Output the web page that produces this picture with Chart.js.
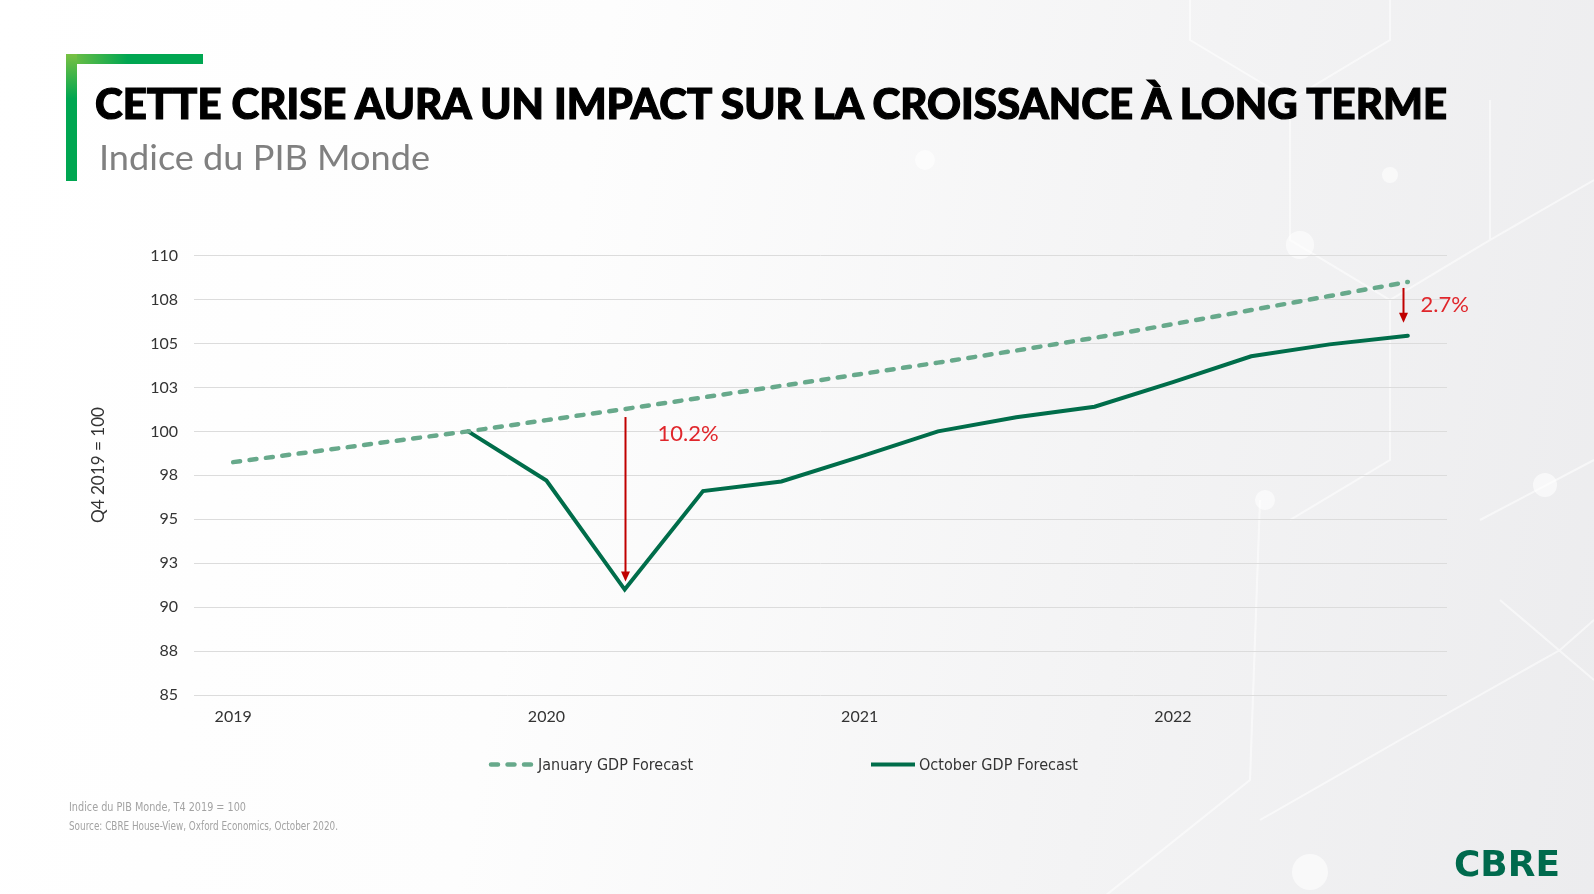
<!DOCTYPE html>
<html><head><meta charset="utf-8">
<script src="https://cdn.jsdelivr.net/npm/chart.js@4.4.1/dist/chart.umd.min.js"></script>
<style>
html,body{margin:0;padding:0;}
body{width:1594px;height:894px;position:relative;overflow:hidden;
 background:linear-gradient(100deg,#ffffff 0%,#fdfdfd 35%,#f3f3f4 70%,#ececee 100%);
 font-family:Lato,"Open Sans",sans-serif;}
svg.layer{position:absolute;left:0;top:0;width:1594px;height:894px;pointer-events:none;}
#decor{z-index:0}
#chartBox{position:absolute;left:80px;top:230px;width:1420px;height:505px;z-index:1;}
#texts{z-index:2}
.bh{position:absolute;left:66px;top:54px;width:137px;height:10px;background:linear-gradient(90deg,#79c143 0%,#00a651 45%,#00a651 100%);z-index:2}
.bv{position:absolute;left:66px;top:54px;width:11px;height:127px;background:linear-gradient(180deg,#79c143 0%,#00a651 35%,#00a651 100%);z-index:2}
</style></head>
<body>
<svg id="decor" class="layer" viewBox="0 0 1594 894">
 <g stroke="#ffffff" stroke-width="2" fill="none" opacity="0.55">
  <polyline points="1190,0 1190,40 1290,100 1390,40 1390,0"/>
  <polyline points="1290,100 1290,240 1390,300 1490,240 1490,100"/>
  <polyline points="1490,240 1594,180"/>
  <polyline points="1390,300 1390,460 1290,520"/>
  <polyline points="1260,820 1400,740 1560,650 1594,620"/>
  <polyline points="1100,900 1250,780 1260,500"/>
  <polyline points="1480,520 1594,460"/>
  <polyline points="1500,600 1594,680"/>
 </g>
 <g fill="#ffffff" opacity="0.6">
  <circle cx="1300" cy="245" r="14"/><circle cx="1390" cy="175" r="8"/>
  <circle cx="1265" cy="500" r="10"/><circle cx="1545" cy="485" r="12"/>
  <circle cx="1310" cy="872" r="18"/><circle cx="925" cy="160" r="10"/>
 </g>
</svg>
<div class="bh"></div><div class="bv"></div>
<div id="chartBox"><canvas id="c" width="1420" height="505"></canvas></div>
<svg id="texts" class="layer" viewBox="0 0 1594 894">
 <text x="95" y="119" font-family="Lato, 'DejaVu Sans'" font-weight="900" font-size="42" fill="#000" stroke="#000" stroke-width="1.2" textLength="1352" lengthAdjust="spacingAndGlyphs">CETTE CRISE AURA UN IMPACT SUR LA CROISSANCE À LONG TERME</text>
 <text x="99" y="170" font-family="Lato, 'Open Sans'" font-size="34" fill="#808080" textLength="331" lengthAdjust="spacingAndGlyphs">Indice du PIB Monde</text>
 <text transform="translate(103.5,465) rotate(-90)" text-anchor="middle" font-family="Lato, 'Open Sans'" font-size="17.5" fill="#333" textLength="116" lengthAdjust="spacingAndGlyphs">Q4 2019 = 100</text>
 <g id="legend">
  <line x1="491" y1="764.5" x2="532" y2="764.5" stroke="#67a98b" stroke-width="4.5" stroke-linecap="round" stroke-dasharray="7 9.5"/>
  <text x="538" y="770" font-family="'Liberation Sans Narrow','DejaVu Sans Condensed',sans-serif" font-size="16" fill="#333" textLength="155" lengthAdjust="spacingAndGlyphs">January GDP Forecast</text>
  <line x1="871" y1="764.5" x2="915" y2="764.5" stroke="#006d4a" stroke-width="4"/>
  <text x="919" y="770" font-family="'Liberation Sans Narrow','DejaVu Sans Condensed',sans-serif" font-size="16" fill="#333" textLength="159" lengthAdjust="spacingAndGlyphs">October GDP Forecast</text>
 </g>
 <text x="69" y="811" font-family="'Liberation Sans Narrow','DejaVu Sans Condensed',sans-serif" font-size="13" fill="#a3a3a3" textLength="177" lengthAdjust="spacingAndGlyphs">Indice du PIB Monde, T4 2019 = 100</text>
 <text x="69" y="830" font-family="'Liberation Sans Narrow','DejaVu Sans Condensed',sans-serif" font-size="13" fill="#a3a3a3" textLength="269" lengthAdjust="spacingAndGlyphs">Source: CBRE House-View, Oxford Economics, October 2020.</text>
 <text x="1454" y="876" font-family="'DejaVu Sans', sans-serif" font-weight="bold" font-size="35" fill="#006a4d" textLength="106" lengthAdjust="spacingAndGlyphs">CBRE</text>
</svg>
<script>
// ---- data ----
const categories = ['T1 2019','T2 2019','T3 2019','T4 2019','T1 2020','T2 2020','T3 2020','T4 2020',
                    'T1 2021','T2 2021','T3 2021','T4 2021','T1 2022','T2 2022','T3 2022','T4 2022'];
const tickLabels = ['2019','','','','2020','','','','2021','','','','2022','','',''];
const januaryForecast = [98.25, 98.83, 99.42, 100.0, 100.64, 101.27, 101.93, 102.59, 103.25, 103.91, 104.6, 105.32, 106.1, 106.9, 107.7, 108.5];
const octoberForecast = [null, null, null, 100.0, 97.2, 91.0, 96.6, 97.15, 98.55, 100.0, 100.8, 101.4, 102.8, 104.27, 104.95, 105.44];
const seriesNames = ['January GDP Forecast','October GDP Forecast'];
const yTicks = {min: 85, max: 110, step: 2.5};
const arrowNotes = [
  {index: 5, label: '10.2%', gapTop: 8, gapBottom: 8, dx: 0, textDx: 32, textDy: 17},
  {index: 15, label: '2.7%', gapTop: 6, gapBottom: 13, dx: -5, textDx: 17, textDy: 17}
];

Chart.defaults.font.family = 'Lato, "Open Sans", sans-serif';

const arrowPlugin = {
  id: 'arrows',
  afterDatasetsDraw(chart) {
    const {ctx, scales: {x, y}} = chart;
    ctx.save();
    arrowNotes.forEach(n => {
      const px = Math.round(x.getPixelForValue(n.index) + n.dx) + 0.5;
      const y1 = y.getPixelForValue(januaryForecast[n.index]) + n.gapTop;
      const y2 = y.getPixelForValue(octoberForecast[n.index]) - n.gapBottom;
      const head = 10, hw = 4.5;
      ctx.strokeStyle = '#c00000';
      ctx.fillStyle = '#c00000';
      ctx.lineWidth = 2;
      ctx.beginPath(); ctx.moveTo(px, y1); ctx.lineTo(px, y2 - head + 1); ctx.stroke();
      ctx.beginPath(); ctx.moveTo(px - hw, y2 - head); ctx.lineTo(px + hw, y2 - head); ctx.lineTo(px, y2); ctx.closePath(); ctx.fill();
      ctx.fillStyle = '#e0262b';
      ctx.font = '22px Lato, "Open Sans", sans-serif';
      ctx.textAlign = 'left'; ctx.textBaseline = 'middle';
      ctx.fillText(n.label, px + n.textDx, y1 + n.textDy);
    });
    ctx.restore();
  }
};

new Chart(document.getElementById('c'), {
  type: 'line',
  data: {
    labels: categories,
    datasets: [
      {label: seriesNames[0], data: januaryForecast, borderColor: '#67a98b', backgroundColor: '#67a98b',
       borderWidth: 4.5, borderDash: [7, 9.5], borderCapStyle: 'round', pointRadius: 0, tension: 0, fill: false},
      {label: seriesNames[1], data: octoberForecast, borderColor: '#006d4a', backgroundColor: '#006d4a',
       borderWidth: 4, borderCapStyle: 'round', borderJoinStyle: 'miter', pointRadius: 0, tension: 0, fill: false}
    ]
  },
  options: {
    responsive: false, animation: false, devicePixelRatio: 1,
    layout: {padding: {top: 15, right: 53, left: 0, bottom: 0}},
    plugins: {legend: {display: false}, tooltip: {enabled: false}},
    scales: {
      x: {
        offset: true,
        grid: {display: false},
        border: {display: false},
        ticks: {autoSkip: false, maxRotation: 0, color: '#333', font: {size: 16}, padding: 4,
                callback: (v, i) => tickLabels[i]},
        afterFit: s => { s.height = 40; }
      },
      y: {
        min: yTicks.min, max: yTicks.max,
        grid: {color: '#dcdcdc', lineWidth: 1, drawTicks: false},
        border: {display: false},
        ticks: {stepSize: yTicks.step, color: '#333', font: {size: 16}, padding: 16,
                callback: v => String(Math.round(v))},
        afterFit: s => { s.width = 114; }
      }
    }
  },
  plugins: [arrowPlugin]
});
</script>
</body></html>
